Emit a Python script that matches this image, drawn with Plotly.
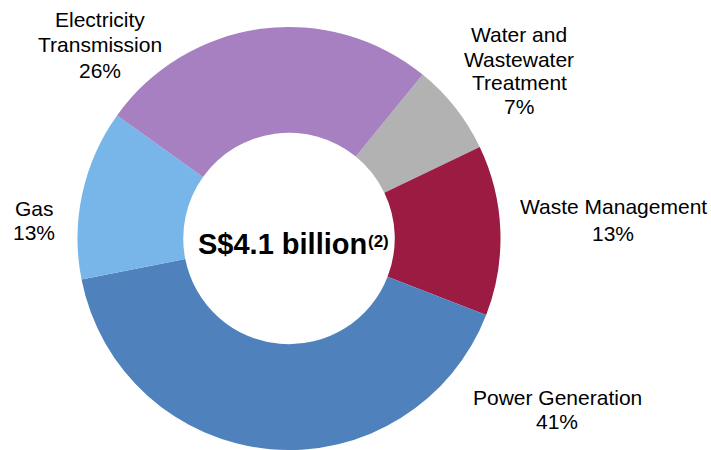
import plotly.graph_objects as go

# Segment shares (%), listed clockwise starting from the upper-right segment
segments = ["Water and Wastewater Treatment", "Waste Management",
            "Power Generation", "Gas", "Electricity Transmission"]
shares = [7, 13, 41, 13, 26]
colors = ["#B2B2B2", "#9B1B42", "#4F81BD", "#78B6E9", "#A680C0"]

# Outside label lines for each segment (the percentage is appended as the last line)
label_lines = {
    "Water and Wastewater Treatment": ["Water and", "Wastewater", "Treatment"],
    "Waste Management": ["Waste Management"],
    "Power Generation": ["Power Generation"],
    "Gas": ["Gas"],
    "Electricity Transmission": ["Electricity", "Transmission"],
}
# Label placement in pixels: (center x, first-line center y, line step)
label_pos = {
    "Water and Wastewater Treatment": (519, 35, 24),
    "Waste Management": (613, 207, 26),
    "Power Generation": (557, 397, 24),
    "Gas": (34, 208, 24),
    "Electricity Transmission": (100, 20, 25),
}
total_label = "S$4.1 billion"
total_note = "(2)"

W, H = 711, 450

fig = go.Figure()
fig.add_trace(go.Pie(
    labels=segments,
    values=shares,
    marker=dict(colors=colors, line=dict(width=0)),
    hole=0.5,
    sort=False,
    direction="clockwise",
    rotation=39.2,
    textinfo="none",
    hoverinfo="label+percent",
    domain=dict(x=[(289 - 250) / W, (289 + 250) / W], y=[0, 0.94]),
    showlegend=False,
))

font = dict(family="Liberation Sans, Arial, sans-serif", size=21, color="#000000")
for name, pct in zip(segments, shares):
    cx, y0, step = label_pos[name]
    lines = label_lines[name] + [f"{pct}%"]
    for i, line in enumerate(lines):
        fig.add_annotation(
            x=cx / W, y=1 - (y0 + i * step) / H, xref="paper", yref="paper",
            text=line, showarrow=False,
            xanchor="center", yanchor="middle", font=font,
        )

# Total in the hole, with its footnote marker
fig.add_annotation(
    x=282.5 / W, y=1 - 244 / H, xref="paper", yref="paper",
    text=f"<b>{total_label}</b>",
    showarrow=False, xanchor="center", yanchor="middle",
    font=dict(family="Liberation Sans, Arial, sans-serif", size=29, color="#000000"),
)
fig.add_annotation(
    x=366 / W, y=1 - 241 / H, xref="paper", yref="paper",
    text=f"<b>{total_note}</b>",
    showarrow=False, xanchor="left", yanchor="middle",
    font=dict(family="Liberation Sans, Arial, sans-serif", size=17, color="#000000"),
)

fig.update_layout(
    width=W, height=H,
    margin=dict(l=0, r=0, t=0, b=0),
    paper_bgcolor="white",
    plot_bgcolor="white",
)

fig.write_html("out.html")
